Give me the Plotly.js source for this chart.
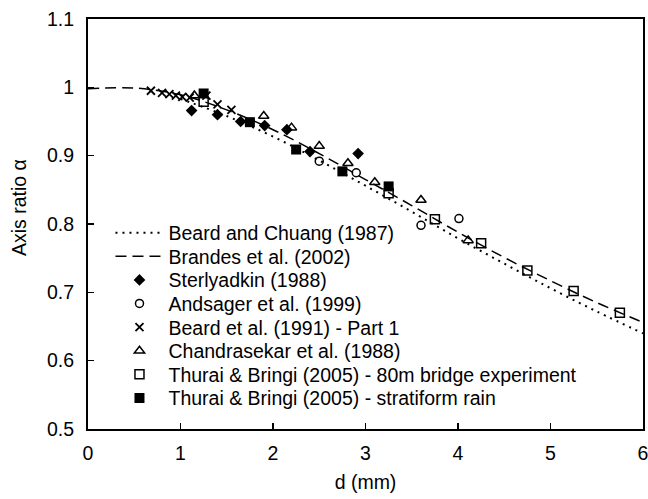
<!DOCTYPE html>
<html>
<head>
<meta charset="utf-8">
<script src="https://cdn.plot.ly/plotly-3.0.1.min.js"></script>
<style>html,body{margin:0;padding:0;background:#fff}#chart{width:648px;height:499px}</style>
</head>
<body>
<div id="chart"></div>
<script>
// Beard and Chuang (1987) curve
var bcX = [1.0, 1.5, 2.0, 2.5, 3.0, 3.5, 4.0, 4.5, 5.0, 5.5, 6.0];
var bcY = [0.983, 0.958, 0.928, 0.893, 0.856, 0.818, 0.779, 0.742, 0.706, 0.672, 0.640];
// Brandes et al. (2002) curve
var brX = [0, 0.5, 1.0, 1.5, 2.0, 2.5, 3.0, 3.5, 4.0, 4.5, 5.0, 5.5, 6.0];
var brY = [0.998, 0.999, 0.989, 0.967, 0.938, 0.903, 0.865, 0.827, 0.788, 0.751, 0.717, 0.685, 0.656];
// Sterlyadkin (1988)
var stX = [1.12, 1.40, 1.65, 1.91, 2.15, 2.40, 2.92];
var stY = [0.966, 0.960, 0.950, 0.944, 0.938, 0.906, 0.903];
// Andsager et al. (1999)
var anX = [2.50, 2.90, 3.60, 4.01];
var anY = [0.892, 0.875, 0.798, 0.808];
// Beard et al. (1991) - Part 1
var beX = [0.68, 0.80, 0.88, 0.95, 1.02, 1.10, 1.28, 1.40, 1.55];
var beY = [0.995, 0.992, 0.990, 0.988, 0.986, 0.985, 0.988, 0.975, 0.967];
// Chandrasekar et al. (1988)
var chX = [1.15, 1.90, 2.20, 2.50, 2.81, 3.10, 3.60, 4.11];
var chY = [0.988, 0.958, 0.941, 0.914, 0.889, 0.861, 0.835, 0.776];
// Thurai & Bringi (2005) - 80m bridge experiment
var tbX = [1.25, 3.25, 3.75, 4.25, 4.75, 5.25, 5.75];
var tbY = [0.979, 0.845, 0.807, 0.772, 0.732, 0.702, 0.670];
// Thurai & Bringi (2005) - stratiform rain
var tsX = [1.25, 1.75, 2.25, 2.75, 3.25];
var tsY = [0.991, 0.949, 0.909, 0.877, 0.855];

var xTitle = 'd (mm)';
var yTitle = 'Axis ratio α';

var FONT = 'Liberation Sans, Arial, sans-serif';
var FS = 19.5;
var traces = [
  {x: bcX, y: bcY, name: 'Beard and Chuang (1987)', mode: 'lines', line: {color: '#000', width: 2, dash: '2px,5px', shape: 'spline'}},
  {x: brX, y: brY, name: 'Brandes et al. (2002)', mode: 'lines', line: {color: '#000', width: 1.5, dash: '11px,6px', shape: 'spline'}},
  {x: stX, y: stY, name: 'Sterlyadkin (1988)', mode: 'markers', marker: {symbol: 'diamond', size: 9, color: '#000'}},
  {x: anX, y: anY, name: 'Andsager et al. (1999)', mode: 'markers', marker: {symbol: 'circle-open', size: 8, color: '#000', line: {width: 1.5}}},
  {x: beX, y: beY, name: 'Beard et al. (1991) - Part 1', mode: 'markers', marker: {symbol: 'x-thin-open', size: 8, color: '#000', line: {width: 1.8}}},
  {x: chX, y: chY, name: 'Chandrasekar et al. (1988)', mode: 'markers', marker: {symbol: 'triangle-up-open', size: 9, color: '#000', line: {width: 1.5}}},
  {x: tbX, y: tbY, name: 'Thurai & Bringi (2005) - 80m bridge experiment', mode: 'markers', marker: {symbol: 'square-open', size: 9, color: '#000', line: {width: 1.5}}},
  {x: tsX, y: tsY, name: 'Thurai & Bringi (2005) - stratiform rain', mode: 'markers', marker: {symbol: 'square', size: 10, color: '#000'}}
];

// one small legend per entry so the rows can be spaced exactly as in the reference
var plotTop = 19, plotH = 410, plotL = 88, plotW = 555;
var rowTop = 233, rowGap = 23.6;
var layout = {
  width: 648, height: 499,
  margin: {l: plotL, r: 5, t: plotTop, b: 70},
  paper_bgcolor: '#fff', plot_bgcolor: '#fff',
  font: {family: FONT, size: FS, color: '#000'},
  showlegend: true,
  xaxis: {range: [0, 6], dtick: 1, tick0: 0, showgrid: false, zeroline: false,
          showline: true, linecolor: '#000', linewidth: 2, mirror: true,
          ticks: 'inside', ticklen: 6, tickwidth: 1.5, tickcolor: '#000',
          ticklabeloverflow: 'allow', ticklabelstandoff: 6,
          tickfont: {family: FONT, size: FS},
          title: {text: xTitle, font: {family: FONT, size: FS}, standoff: 12}},
  yaxis: {range: [0.5, 1.1], dtick: 0.1, tick0: 0.5, showgrid: false, zeroline: false,
          showline: true, linecolor: '#000', linewidth: 2, mirror: true,
          ticks: 'inside', ticklen: 6, tickwidth: 1.5, tickcolor: '#000',
          ticklabelstandoff: 8,
          tickfont: {family: FONT, size: FS}},
  annotations: [{text: yTitle, textangle: -90, showarrow: false,
                 xref: 'paper', yref: 'paper', x: (19 - plotL) / plotW, y: 1 - (208 - plotTop) / plotH,
                 xanchor: 'center', yanchor: 'middle', font: {family: FONT, size: FS, color: '#000'}}]
};
traces.forEach(function (t, i) {
  var key = i === 0 ? 'legend' : 'legend' + (i + 1);
  t.legend = key;
  var yPix = rowTop + i * rowGap;
  layout[key] = {x: 0.0405, xanchor: 'left', y: 1 - (yPix - plotTop) / plotH, yanchor: 'middle',
                 bgcolor: 'rgba(0,0,0,0)', borderwidth: 0, itemwidth: 48,
                 font: {family: FONT, size: FS, color: '#000'}};
});

Plotly.newPlot('chart', traces, layout, {displayModeBar: false, staticPlot: true});
</script>
</body>
</html>
